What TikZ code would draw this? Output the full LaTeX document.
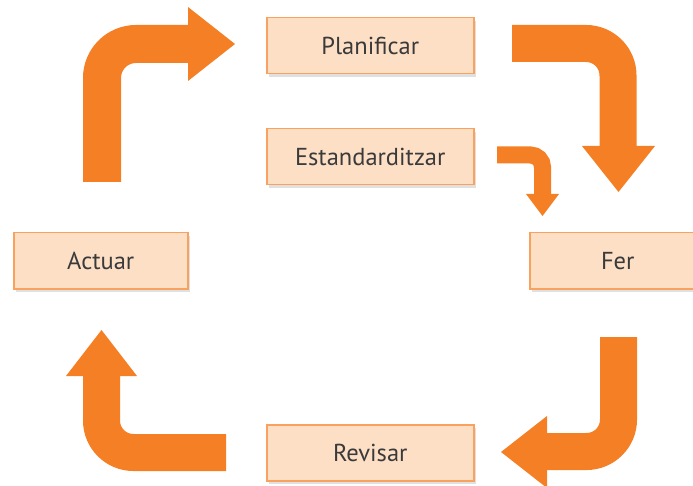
\documentclass[tikz,border=0pt]{standalone}
\usepackage{fontspec}
\setmainfont{PT Sans}
\usetikzlibrary{shadows}
\definecolor{arrorange}{HTML}{F47F24}
\definecolor{boxfill}{HTML}{FDDFC6}
\definecolor{boxline}{HTML}{F9A15E}
\definecolor{txtgray}{HTML}{3A3A3A}
\tikzset{
  stepbox/.style={draw=boxline, fill=boxfill, line width=1.5pt, inner sep=0pt,
    anchor=north west, text=txtgray, font=\fontsize{24.5}{28}\selectfont,
    drop shadow={shadow xshift=2pt, shadow yshift=-3pt, opacity=0.12, fill=black}},
  shaft/.style={draw=arrorange, line cap=butt},
  head/.style={fill=arrorange},
}
\begin{document}
\begin{tikzpicture}[x=1pt,y=-1pt]
\useasboundingbox (0,0) rectangle (693,486);
\clip (0,0) rectangle (693,486);
% boxes
\node[stepbox, minimum width=207pt, minimum height=56pt] (plan) at (266,17) {Planificar};
\node[stepbox, minimum width=207pt, minimum height=56pt] (est) at (266,128) {Estandarditzar};
\node[stepbox, minimum width=174pt, minimum height=56pt] (act) at (13,232) {Actuar};
\node[stepbox, minimum width=176pt, minimum height=56pt] (fer) at (529,232) {Fer};
\node[stepbox, minimum width=207pt, minimum height=56pt] (rev) at (266,424) {Revisar};
% arrow Actuar -> Planificar
\coordinate (a1) at (102,182); \coordinate (a2) at (102,44); \coordinate (a3) at (189,44);
\draw[shaft, line width=38pt, rounded corners=34pt] (a1) -- (a2) -- (a3);
\coordinate (ah1) at (188,7); \coordinate (ah2) at (235,44); \coordinate (ah3) at (188,81);
\fill[head] (ah1) -- (ah2) -- (ah3) -- cycle;
% arrow Planificar -> Fer
\coordinate (b1) at (512,43.5); \coordinate (b2) at (618,43.5); \coordinate (b3) at (618,147);
\draw[shaft, line width=37pt, rounded corners=32pt] (b1) -- (b2) -- (b3);
\coordinate (bh1) at (582,146); \coordinate (bh2) at (618.5,192); \coordinate (bh3) at (655,146);
\fill[head] (bh1) -- (bh2) -- (bh3) -- cycle;
% small arrow Estandarditzar -> Fer
\coordinate (c1) at (497,155); \coordinate (c2) at (542.5,155); \coordinate (c3) at (542.5,195);
\draw[shaft, line width=17pt, rounded corners=12pt] (c1) -- (c2) -- (c3);
\coordinate (ch1) at (526,194); \coordinate (ch2) at (542.5,216); \coordinate (ch3) at (559,194);
\fill[head] (ch1) -- (ch2) -- (ch3) -- cycle;
% arrow Fer -> Revisar
\coordinate (d1) at (618.5,337); \coordinate (d2) at (618.5,451.5); \coordinate (d3) at (546,451.5);
\draw[shaft, line width=37pt, rounded corners=32pt] (d1) -- (d2) -- (d3);
\coordinate (dh1) at (547,416); \coordinate (dh2) at (501,452); \coordinate (dh3) at (547,488);
\fill[head] (dh1) -- (dh2) -- (dh3) -- cycle;
% arrow Revisar -> Actuar
\coordinate (e1) at (226,452.5); \coordinate (e2) at (101.5,452.5); \coordinate (e3) at (101.5,375);
\draw[shaft, line width=37pt, rounded corners=32pt] (e1) -- (e2) -- (e3);
\coordinate (eh1) at (66,376); \coordinate (eh2) at (101.5,330); \coordinate (eh3) at (137,376);
\fill[head] (eh1) -- (eh2) -- (eh3) -- cycle;
\end{tikzpicture}
\end{document}
